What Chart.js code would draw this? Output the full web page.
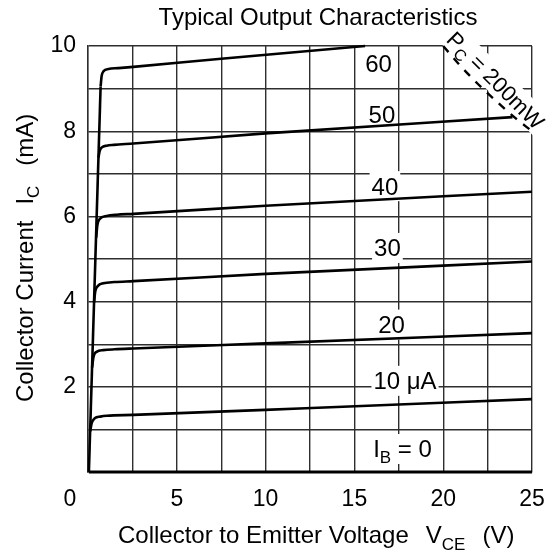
<!DOCTYPE html>
<html>
<head>
<meta charset="utf-8">
<script src="https://cdn.jsdelivr.net/npm/chart.js@4/dist/chart.umd.min.js"></script>
<style>
  html, body { margin: 0; padding: 0; background: #fff; }
  canvas { display: block; }
</style>
</head>
<body>
<canvas id="chart" width="552" height="555"></canvas>
<script>
// Typical Output Characteristics: IC vs VCE for several base currents.
const FONT = '"Liberation Sans", Arial, sans-serif';

// saturation region (shared steep rise at the left)
const satV = [0.05, 0.71];
const satI = [0, 9.05];

// one pair of arrays per base current curve
const vce60 = [0.71, 0.77, 0.88, 1.15, 1.70, 2.55, 7.50, 15.60];
const ic60  = [9.05, 9.30, 9.41, 9.46, 9.48, 9.51, 9.70, 10.00];

const vce50 = [0.59, 0.66, 0.78, 1.05, 1.45, 2.55, 10.0, 23.9];
const ic50  = [7.38, 7.54, 7.62, 7.66, 7.68, 7.71, 7.95, 8.33];

const vce40 = [0.46, 0.53, 0.66, 1.05, 1.60, 2.55, 10.0, 25.0];
const ic40  = [5.50, 5.80, 5.94, 6.01, 6.04, 6.06, 6.25, 6.58];

const vce30 = [0.34, 0.41, 0.56, 0.86, 1.50, 2.55, 10.0, 25.0];
const ic30  = [3.98, 4.24, 4.37, 4.43, 4.46, 4.48, 4.65, 4.94];

const vce20 = [0.23, 0.31, 0.48, 0.86, 1.50, 2.55, 10.0, 25.0];
const ic20  = [2.45, 2.70, 2.82, 2.86, 2.88, 2.90, 3.02, 3.26];

const vce10 = [0.12, 0.21, 0.38, 0.70, 1.05, 2.55, 11.9, 25.0];
const ic10  = [0.95, 1.15, 1.26, 1.30, 1.32, 1.34, 1.49, 1.71];

const vce0 = [0.05, 25.0];
const ic0  = [0, 0];

// Pc = 200 mW limit
const pcV = [20, 21, 22, 23, 24, 25];
const pcI = [10.0, 9.52, 9.09, 8.70, 8.33, 8.00];

// curve labels: text and anchor (V, mA)
const curveLabels = ['60', '50', '40', '30', '20', '10 \u03bcA', 'IB'];
const labelV = [16.36, 16.55, 16.72, 16.86, 17.09, 17.85, 17.71];
const labelI = [9.58, 8.39, 6.71, 5.26, 3.46, 2.14, 0.54];

const xTickLabels = ['5', '10', '15', '20', '25'];
const yTickLabels = ['2', '4', '6', '8', '10'];

function pts(xs, ys) {
    return xs.map((x, i) => ({ x, y: ys[i] }));
}

function curve(xs, ys, width) {
    return {
        data: pts(xs, ys),
        borderColor: '#000',
        borderWidth: width || 2.6,
        cubicInterpolationMode: 'monotone',
        pointRadius: 0,
        fill: false,
        clip: 4,
    };
}

// draw a run of text pieces left to right: [{t, size, dy}] or {gap}
function runWidth(ctx, parts) {
    let w = 0;
    for (const p of parts) {
        if (p.gap) { w += p.gap; continue; }
        ctx.font = p.size + 'px ' + FONT;
        w += ctx.measureText(p.t).width;
    }
    return w;
}
function drawRun(ctx, parts, x, y) {
    ctx.textAlign = 'left';
    ctx.textBaseline = 'alphabetic';
    for (const p of parts) {
        if (p.gap) { x += p.gap; continue; }
        ctx.font = p.size + 'px ' + FONT;
        ctx.fillText(p.t, x, y + (p.dy || 0));
        x += ctx.measureText(p.t).width;
    }
}

const textPlugin = {
    id: 'texts',
    beforeDatasetsDraw(chart) {
        const { ctx, scales: { x, y } } = chart;
        ctx.save();
        ctx.fillStyle = '#000';
        // curve labels with white boxes over the grid
        curveLabels.forEach((lab, i) => {
            const cx = x.getPixelForValue(labelV[i]);
            const cy = y.getPixelForValue(labelI[i]);
            let parts;
            if (lab === 'IB') {
                parts = [{ t: 'I', size: 24 }, { t: 'B', size: 17, dy: 6 }, { t: ' = 0', size: 24 }];
            } else {
                parts = [{ t: lab, size: 24 }];
            }
            const w = runWidth(ctx, parts);
            ctx.fillStyle = '#fff';
            ctx.fillRect(cx - w / 2 - 2, cy - 15, w + 4, 30);
            ctx.fillStyle = '#000';
            drawRun(ctx, parts, cx - w / 2, cy + 8.5);
        });

        // Pc = 200mW, rotated along the limit curve
        const px = x.getPixelForValue(22.97);
        const py = y.getPixelForValue(9.2);
        const pcParts = [{ t: 'P', size: 22 }, { t: 'C', size: 16, dy: 5 }, { t: ' = 200mW', size: 22 }];
        ctx.translate(px, py);
        ctx.rotate(Math.PI / 4);
        const pw = runWidth(ctx, pcParts);
        ctx.fillStyle = '#fff';
        ctx.fillRect(-pw / 2 - 3, -13, pw + 6, 26);
        ctx.fillStyle = '#000';
        drawRun(ctx, pcParts, -pw / 2, 8);
        ctx.restore();
    },
    afterDraw(chart) {
        const { ctx, scales: { x } } = chart;
        ctx.save();
        ctx.fillStyle = '#000';

        // title
        ctx.font = '24px ' + FONT;
        ctx.textAlign = 'center';
        ctx.textBaseline = 'alphabetic';
        ctx.fillText('Typical Output Characteristics', 318, 25);

        // corner "0" of the x axis sits left of the origin
        ctx.font = '23px ' + FONT;
        ctx.textBaseline = 'middle';
        ctx.fillText('0', x.getPixelForValue(0) - 18, 500);

        // x axis title
        drawRun(ctx, [
            { t: 'Collector to Emitter Voltage', size: 24 },
            { gap: 17 },
            { t: 'V', size: 24 },
            { t: 'CE', size: 17, dy: 7 },
            { gap: 17 },
            { t: '(V)', size: 24 },
        ], 118, 543);

        // y axis title, rotated
        ctx.translate(33, 402);
        ctx.rotate(-Math.PI / 2);
        drawRun(ctx, [
            { t: 'Collector Current', size: 24 },
            { gap: 16 },
            { t: 'I', size: 24 },
            { t: 'C', size: 17, dy: 6 },
            { gap: 20 },
            { t: '(mA)', size: 24 },
        ], 0, 0);
        ctx.restore();
    },
};

const gridColor = '#2e2e2e';

new Chart(document.getElementById('chart').getContext('2d'), {
    type: 'line',
    data: {
        datasets: [
            curve(satV, satI),
            curve(vce60, ic60),
            curve(vce50, ic50),
            curve(vce40, ic40),
            curve(vce30, ic30),
            curve(vce20, ic20),
            curve(vce10, ic10),
            curve(vce0, ic0, 3.2),
            Object.assign(curve(pcV, pcI), { borderDash: [8, 8], borderWidth: 2.4 }),
        ],
    },
    options: {
        responsive: false,
        animation: false,
        events: [],
        layout: { padding: { top: 46, right: 20, left: 0, bottom: 0 } },
        plugins: { legend: { display: false }, tooltip: { enabled: false } },
        scales: {
            x: {
                type: 'linear', min: 0, max: 25,
                afterFit: (s) => { s.height = 83; s.paddingLeft = 0; s.paddingRight = 0; },
                ticks: {
                    stepSize: 2.5, autoSkip: false, maxRotation: 0, padding: 14,
                    color: '#000', font: { family: FONT, size: 23 },
                    callback: (v) => xTickLabels.includes(String(v)) ? String(v) : '',
                },
                grid: { color: gridColor, lineWidth: 1.4, drawTicks: false },
                border: { display: true, color: gridColor, width: 1.4 },
            },
            y: {
                type: 'linear', min: 0, max: 10,
                afterFit: (s) => { s.width = 88; s.paddingTop = 0; s.paddingBottom = 0; },
                ticks: {
                    stepSize: 1, autoSkip: false, padding: 12,
                    color: '#000', font: { family: FONT, size: 23 },
                    callback: (v) => yTickLabels.includes(String(v)) ? String(v) : '',
                },
                grid: { color: gridColor, lineWidth: 1.4, drawTicks: false },
                border: { display: true, color: gridColor, width: 1.4 },
            },
        },
    },
    plugins: [textPlugin],
});
</script>
</body>
</html>
